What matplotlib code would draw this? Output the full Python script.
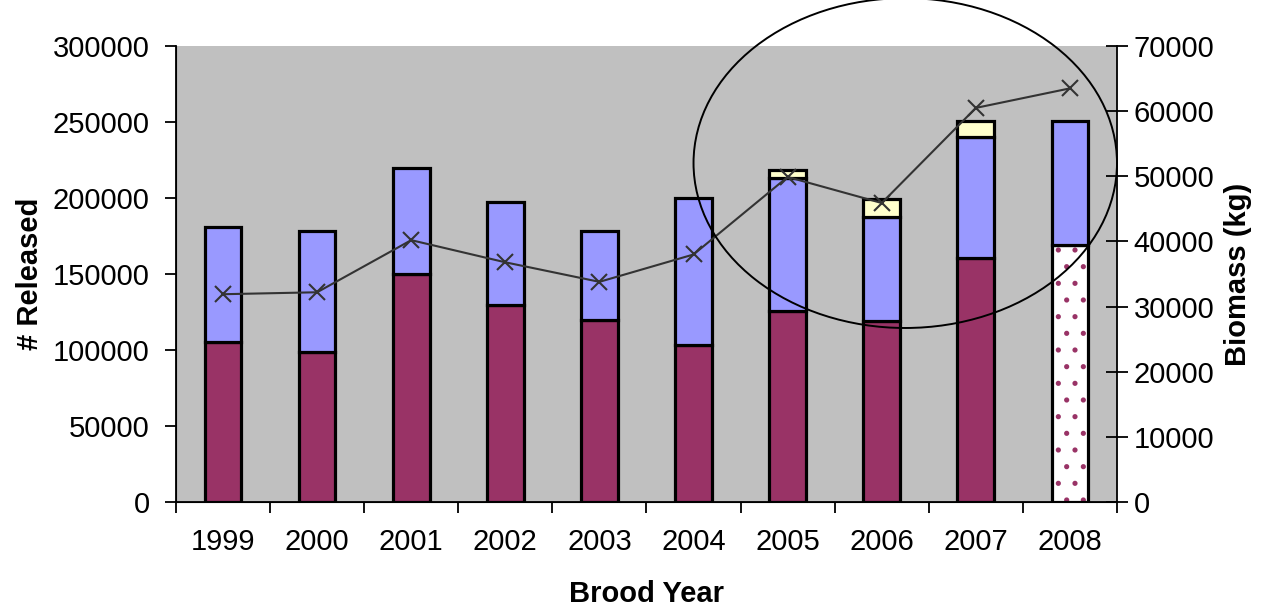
import matplotlib.pyplot as plt
import numpy as np
from matplotlib.patches import Ellipse

plt.rcParams['font.family'] = ['Liberation Sans', 'DejaVu Sans']
plt.rcParams['hatch.linewidth'] = 1.3

years = ['1999', '2000', '2001', '2002', '2003', '2004', '2005', '2006', '2007', '2008']
lower = [105000, 98500, 150000, 129500, 119500, 103000, 126000, 119000, 160500, 169000]
middle = [76000, 79500, 70000, 68000, 58500, 97000, 87000, 68500, 79500, 81500]
upper = [0, 0, 0, 0, 0, 0, 5500, 12000, 10500, 0]
biomass = [31900, 32200, 40200, 36800, 33800, 38000, 49900, 45900, 60500, 63500]
# last year's lower segment is still provisional (drawn dotted)
provisional = [False] * 9 + [True]

maroon = '#993366'
blue = '#9999FF'
cream = '#FFFFCC'
fs = 21

x = np.arange(len(years))
w = 0.39
lw = 2.3

fig = plt.figure(figsize=(12.64, 6.08), dpi=100)
ax = fig.add_axes([0.1392, 0.1743, 0.7445, 0.75])
ax.set_facecolor('#C0C0C0')

lower = np.array(lower)
middle = np.array(middle)
upper = np.array(upper)

for i in range(len(years)):
    if provisional[i]:
        ax.bar(x[i], lower[i], w, color='white', edgecolor=maroon, hatch='.', linewidth=0, zorder=2)
        ax.bar(x[i], lower[i], w, fill=False, edgecolor='black', linewidth=lw, zorder=3)
    else:
        ax.bar(x[i], lower[i], w, color=maroon, edgecolor='black', linewidth=lw, zorder=3)
ax.bar(x, middle, w, bottom=lower, color=blue, edgecolor='black', linewidth=lw, zorder=3)
has_top = upper > 0
ax.bar(x[has_top], upper[has_top], w, bottom=(lower + middle)[has_top], color=cream,
       edgecolor='black', linewidth=lw, zorder=3)

ax.set_xlim(-0.5, len(years) - 0.5)
ax.set_ylim(0, 300000)
ax.set_yticks(np.arange(0, 300001, 50000))
ax.set_xticks(x)
ax.set_xticklabels(years)
ax.set_xticks(np.arange(-0.5, len(years)), minor=True)
ax.tick_params(axis='x', which='major', length=0, pad=19, labelsize=fs)
ax.tick_params(axis='x', which='minor', length=8, width=1.3, direction='out')
ax.tick_params(axis='y', length=8, width=1.3, direction='out', labelsize=fs, pad=11)
ax.spines['top'].set_visible(False)
ax.spines['right'].set_visible(False)
for s in ('left', 'bottom'):
    ax.spines[s].set_linewidth(1.3)

ax.set_ylabel('# Released', fontsize=fs, fontweight='bold', labelpad=6)
ax.set_xlabel('Brood Year', fontsize=fs, fontweight='bold', labelpad=17)

ax2 = ax.twinx()
ax2.plot(x, biomass, color='#333333', linewidth=1.5, marker='x', markersize=12,
         markeredgewidth=1.5, zorder=5)
ax2.set_ylim(0, 70000)
ax2.set_yticks(np.arange(0, 70001, 10000))
ax2.tick_params(axis='y', length=16, width=1.3, direction='inout', labelsize=fs, pad=4)
ax2.spines['top'].set_visible(False)
ax2.spines['right'].set_linewidth(1.3)
ax2.set_ylabel('Biomass (kg)', fontsize=fs, fontweight='bold', labelpad=7)

# circle highlighting the recent years
ax2.add_patch(Ellipse((7.25, 223000 * 70000 / 300000), 4.5, 217000 * 70000 / 300000,
                      fill=False, edgecolor='black', linewidth=1.4, clip_on=False, zorder=6))

fig.savefig('out.png', dpi=100)
